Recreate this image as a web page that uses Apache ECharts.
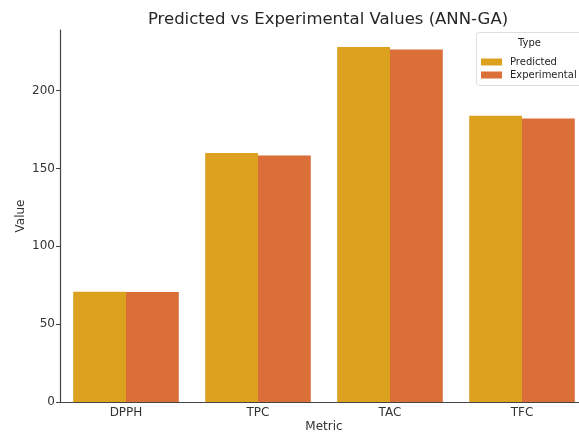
<!DOCTYPE html>
<html>
<head>
<meta charset="utf-8">
<script src="https://cdn.jsdelivr.net/npm/echarts@6/dist/echarts.min.js"></script>
<style>
  html, body { margin: 0; padding: 0; background: #fff; }
  #chart { width: 579px; height: 433px; }
</style>
</head>
<body>
<div id="chart"></div>
<script>
const metrics = ['DPPH', 'TPC', 'TAC', 'TFC']
const predicted = [70.8, 159.9, 228.1, 183.9]
const experimental = [70.6, 158.4, 226.4, 182.2]
const yTicks = [0, 50, 100, 150, 200]

const font = 'DejaVu Sans'
const chart = echarts.init(document.getElementById('chart'))
chart.setOption({
  animation: false,
  textStyle: { fontFamily: font },
  title: {
    text: 'Predicted vs Experimental Values (ANN-GA)',
    left: 323,
    textAlign: 'center',
    top: 6,
    textStyle: { fontSize: 16.5, fontWeight: 'normal', color: '#262626', fontFamily: font },
  },
  // grid runs past the right edge, like the cropped reference
  grid: { left: 60, top: 30, width: 528, height: 372, outerBoundsMode: 'none' },
  legend: {
    orient: 'vertical',
    left: 476,
    top: 52,
    itemWidth: 21,
    itemHeight: 7,
    itemGap: 3,
    icon: 'rect',
    textStyle: { fontSize: 10, color: '#262626', fontFamily: font, padding: [0, 0, 0, 3] },
    data: ['Predicted', 'Experimental'],
  },
  graphic: [
    {
      type: 'rect',
      left: 476,
      top: 32,
      shape: { width: 120, height: 53, r: 3 },
      style: { fill: 'rgba(255,255,255,0.8)', stroke: '#dddddd', lineWidth: 1 },
      z: 1,
    },
    {
      type: 'text',
      left: 518,
      top: 38,
      style: { text: 'Type', fontSize: 10, fill: '#262626', fontFamily: font },
      z: 2,
    },
  ],
  xAxis: {
    type: 'category',
    data: metrics,
    name: 'Metric',
    nameLocation: 'middle',
    nameGap: 19,
    nameMoveOverlap: false,
    nameTextStyle: { fontSize: 12, color: '#333', fontFamily: font },
    axisLine: { lineStyle: { color: '#444', width: 1.2 } },
    axisTick: { alignWithLabel: true, length: 4, lineStyle: { color: '#444' } },
    axisLabel: { fontSize: 12, color: '#333', margin: 5, fontFamily: font },
  },
  yAxis: {
    type: 'value',
    min: 0,
    max: 239,
    interval: 50,
    name: 'Value',
    nameLocation: 'middle',
    nameGap: 33,
    nameMoveOverlap: false,
    nameTextStyle: { fontSize: 12, color: '#333', fontFamily: font },
    splitLine: { show: false },
    axisLine: { show: true, lineStyle: { color: '#444', width: 1.2 } },
    axisTick: { show: true, length: 4, lineStyle: { color: '#444' } },
    axisLabel: {
      fontSize: 12,
      color: '#333',
      margin: 5,
      fontFamily: font,
      showMaxLabel: false,
      formatter: v => (yTicks.includes(v) ? String(v) : ''),
    },
  },
  series: [
    {
      name: 'Predicted',
      type: 'bar',
      data: predicted,
      barGap: '0%',
      barCategoryGap: '20%',
      itemStyle: { color: '#dca21f' },
    },
    {
      name: 'Experimental',
      type: 'bar',
      data: experimental,
      itemStyle: { color: '#db6f39' },
    },
  ],
})
</script>
</body>
</html>
